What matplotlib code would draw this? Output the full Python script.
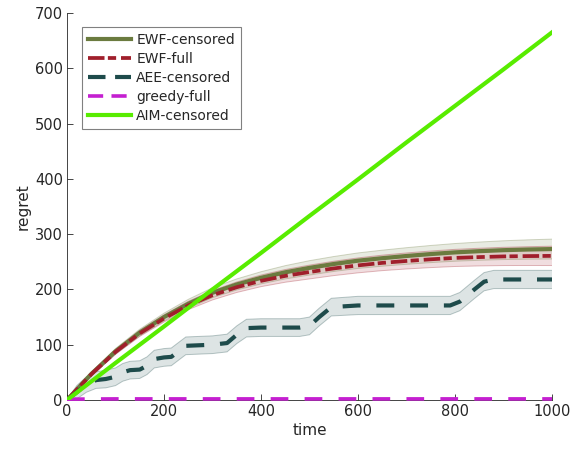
import numpy as np
import matplotlib
matplotlib.use("Agg")
import matplotlib.pyplot as plt

# ---- data ----
t_ewf = [0, 50, 100, 150, 200, 250, 300, 350, 400, 450, 500, 550, 600, 650, 700,
         750, 800, 850, 900, 950, 1000]
ewf_cens = [0, 47, 88, 122, 150, 174, 194, 209, 221, 231, 239, 246, 252, 256.5, 260.5,
            264, 267, 269.2, 271, 272.2, 273]
ewf_cens_sd = [0, 3, 5, 6, 7, 8, 9, 10, 11, 12, 13, 13.5, 14, 14.5, 15, 15.5, 16,
               16.5, 17, 17.5, 18]
ewf_full = [0, 46.5, 87, 120.5, 147.5, 171, 189.5, 204, 215.5, 224.5, 231.5, 238,
            243.5, 248, 251.5, 254.5, 257, 258.5, 259.7, 260.3, 260.7]
ewf_full_sd = [0, 3, 4.5, 5.5, 6.5, 7.5, 8.5, 9.5, 10.5, 11.5, 12.5, 13, 13.5, 14,
               14.5, 15, 15.5, 16, 16.5, 17, 17.5]

t_aee = [0, 20, 40, 60, 80, 100, 115, 130, 150, 165, 180, 200, 215, 230, 245, 300,
         330, 350, 370, 400, 480, 500, 520, 545, 600, 790, 810, 840, 860, 880, 1000]
aee = [0, 14, 28, 36, 38, 42, 50, 54, 55, 62, 74, 77, 78, 88, 98, 100,
       103, 118, 130, 131, 131, 134, 150, 168, 171, 171, 178, 200, 214, 218, 218]
aee_sd = [0, 12, 14, 15, 16, 16, 16, 16, 16, 16, 16, 16, 16, 16, 16, 16,
          16, 16, 16, 16, 16, 16, 16, 16, 16.5, 16.5, 16.5, 16.5, 16.5, 16.5, 16.5]

t_greedy = [0, 100, 200, 300, 400, 500, 600, 700, 800, 900, 1000]
greedy = [1.5, 2, 2, 2, 2, 2, 2, 2, 2, 2, 2]

t_aim = [0, 100, 200, 300, 400, 500, 600, 700, 800, 900, 1000]
aim = [0, 67, 133, 200, 266, 333, 399, 466, 532, 598, 665]

labels = ["EWF-censored", "EWF-full", "AEE-censored", "greedy-full", "AIM-censored"]
xticks = [0, 200, 400, 600, 800, 1000]
yticks = [0, 100, 200, 300, 400, 500, 600, 700]

# ---- colours ----
c_ewfc = "#6b7b3f"
c_ewff = "#a01f2b"
c_aee = "#1e4b4b"
c_greedy = "#c41fd0"
c_aim = "#58ec00"

fig = plt.figure(figsize=(5.74, 4.53), dpi=100)
ax = fig.add_axes([67 / 574, 1 - 400 / 453, 485 / 574, 387 / 453])

def band(x, y, s, color, alpha, ealpha):
    x = np.asarray(x); y = np.asarray(y); s = np.asarray(s)
    ax.fill_between(x, y - s, y + s, facecolor=color, alpha=alpha, linewidth=0, zorder=1)
    ax.plot(x, y + s, color=color, alpha=ealpha, lw=0.7, zorder=1.1)
    ax.plot(x, y - s, color=color, alpha=ealpha, lw=0.7, zorder=1.1)

band(t_ewf, ewf_cens, ewf_cens_sd, c_ewfc, 0.15, 0.3)
band(t_ewf, ewf_full, ewf_full_sd, c_ewff, 0.15, 0.3)
band(t_aee, aee, aee_sd, c_aee, 0.15, 0.3)

ax.plot(t_ewf, ewf_cens, color=c_ewfc, lw=3.0, zorder=3, label=labels[0])
ax.plot(t_ewf, ewf_full, color=c_ewff, lw=2.7, zorder=3.1, label=labels[1],
        dashes=(4.4, 0.9, 2.2, 1.3), dash_capstyle="butt")
ax.plot(t_aee, aee, color=c_aee, lw=3.0, zorder=3.2, label=labels[2],
        dashes=(4.3, 3.8), dash_capstyle="butt")
ax.plot(t_greedy, greedy, color=c_greedy, lw=2.6, zorder=3.3, label=labels[3],
        dashes=(4.9, 4.5), dash_capstyle="butt", clip_on=False)
ax.plot(t_aim, aim, color=c_aim, lw=3.0, zorder=3.4, label=labels[4])

ax.set_xlim(0, 1000)
ax.set_ylim(0, 700)
ax.set_xticks(xticks)
ax.set_yticks(yticks)
for side in ("top", "right"):
    ax.spines[side].set_visible(False)
for side in ("left", "bottom"):
    ax.spines[side].set_color("#262626")
    ax.spines[side].set_linewidth(0.6)
ax.tick_params(direction="in", length=4, width=0.6, color="#262626",
               labelsize=10.5, labelcolor="#262626", pad=3)
ax.set_xlabel("time", fontsize=11, color="#262626", labelpad=3)
ax.set_ylabel("regret", fontsize=11, color="#262626", labelpad=3)

leg = ax.legend(loc="upper left", bbox_to_anchor=(0.031, 0.964), borderaxespad=0,
                fontsize=10, handlelength=3.1, handletextpad=0.35, labelspacing=0.35,
                borderpad=0.45, fancybox=False, framealpha=1, edgecolor="#808080")
leg.get_frame().set_linewidth(0.8)
for txt in leg.get_texts():
    txt.set_color("#262626")
lines = leg.get_lines()
lines[2].set_dashes((4.2, 2.3))
lines[3].set_dashes((4.2, 2.3))

fig.savefig("out.png", dpi=100)
